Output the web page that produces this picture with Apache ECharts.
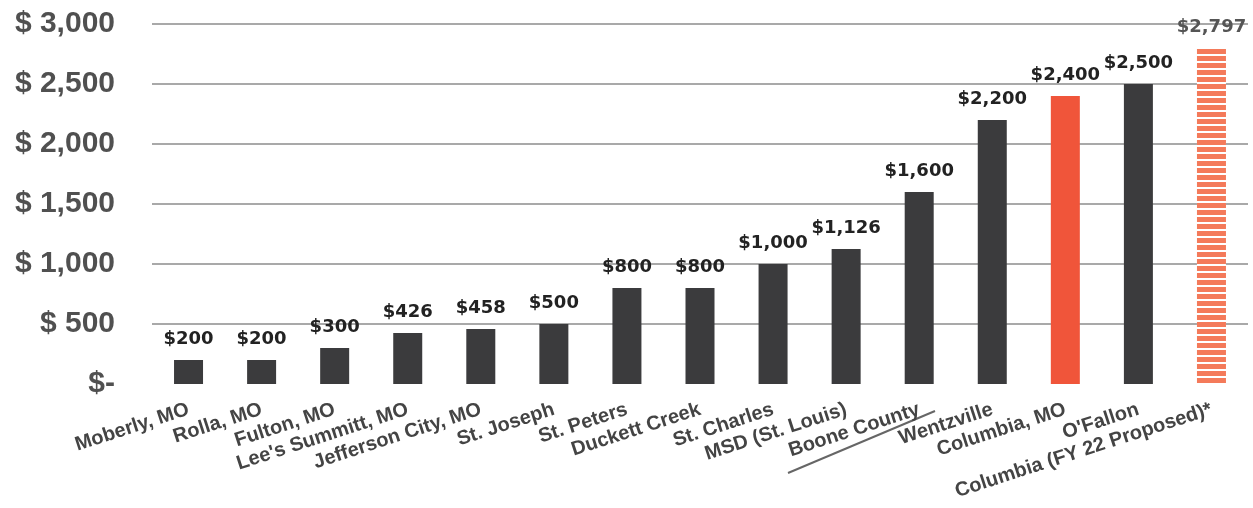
<!DOCTYPE html>
<html>
<head>
<meta charset="utf-8">
<script src="https://cdn.jsdelivr.net/npm/echarts@6/dist/echarts.min.js"></script>
<style>
  html, body { margin: 0; padding: 0; background: #fff; }
  #chart { width: 1253px; height: 508px; }
</style>
</head>
<body>
<div id="chart"></div>
<script>
var cities = [
    'Moberly, MO', 'Rolla, MO', 'Fulton, MO', "Lee's Summitt, MO", 'Jefferson City, MO',
    'St. Joseph', 'St. Peters', 'Duckett Creek', 'St. Charles', 'MSD (St. Louis)',
    'Boone County', 'Wentzville', 'Columbia, MO', "O'Fallon", 'Columbia (FY 22 Proposed)*'
];
var fees = [200, 200, 300, 426, 458, 500, 800, 800, 1000, 1126, 1600, 2200, 2400, 2500, 2797];
var yTicks = [0, 500, 1000, 1500, 2000, 2500, 3000];

function money(v) {
    return '$' + v.toLocaleString('en-US');
}

// current Columbia bar is solid orange, the proposed one is striped
var barData = fees.map(function (v, i) {
    if (i === 12) {
        return { value: v, itemStyle: { color: '#f0553a' } };
    }
    if (i === 14) {
        return {
            value: v,
            itemStyle: {
                color: '#ffffff',
                decal: {
                    symbol: 'rect',
                    symbolSize: 1,
                    color: '#f47a5a',
                    dashArrayX: [1, 0],
                    dashArrayY: [5, 2],
                    rotation: 0
                }
            },
            label: { color: '#555' }
        };
    }
    return v;
});

// no grid line on the zero line
var gridColors = yTicks.map(function (t) { return t === 0 ? 'rgba(0,0,0,0)' : '#8c8c8c'; });

var chart = echarts.init(document.getElementById('chart'));
chart.setOption({
    animation: false,
    aria: { enabled: false },
    grid: { left: 152, right: 5, top: 24, bottom: 124, outerBoundsMode: 'none' },
    // pen stroke under "Boone County" on the scanned slide
    graphic: [{
        type: 'line',
        shape: { x1: 788, y1: 473, x2: 935, y2: 411 },
        style: { stroke: '#666', lineWidth: 2 }
    }],
    xAxis: {
        type: 'category',
        data: cities,
        axisLine: { show: false },
        axisTick: { show: false },
        axisLabel: {
            interval: 0,
            rotate: 18,
            margin: 25,
            fontFamily: 'Liberation Sans',
            fontWeight: 'bold',
            fontSize: 20,
            color: '#444'
        }
    },
    yAxis: {
        type: 'value',
        min: yTicks[0],
        max: yTicks[yTicks.length - 1],
        interval: 500,
        axisLine: { show: false },
        axisTick: { show: false },
        splitLine: { lineStyle: { color: gridColors, width: 1.5 } },
        axisLabel: {
            margin: 37,
            fontFamily: 'Liberation Sans',
            fontWeight: 'bold',
            fontSize: 30,
            color: '#505050',
            formatter: function (v) { return v === 0 ? '$-' : '$ ' + v.toLocaleString('en-US'); }
        }
    },
    series: [{
        type: 'bar',
        data: barData,
        barWidth: 29,
        itemStyle: { color: '#3b3b3d' },
        label: {
            show: true,
            position: 'top',
            distance: 12,
            fontFamily: 'DejaVu Sans',
            fontWeight: 'bold',
            fontSize: 18,
            color: '#222',
            formatter: function (p) { return money(p.value); }
        }
    }]
});
</script>
</body>
</html>
